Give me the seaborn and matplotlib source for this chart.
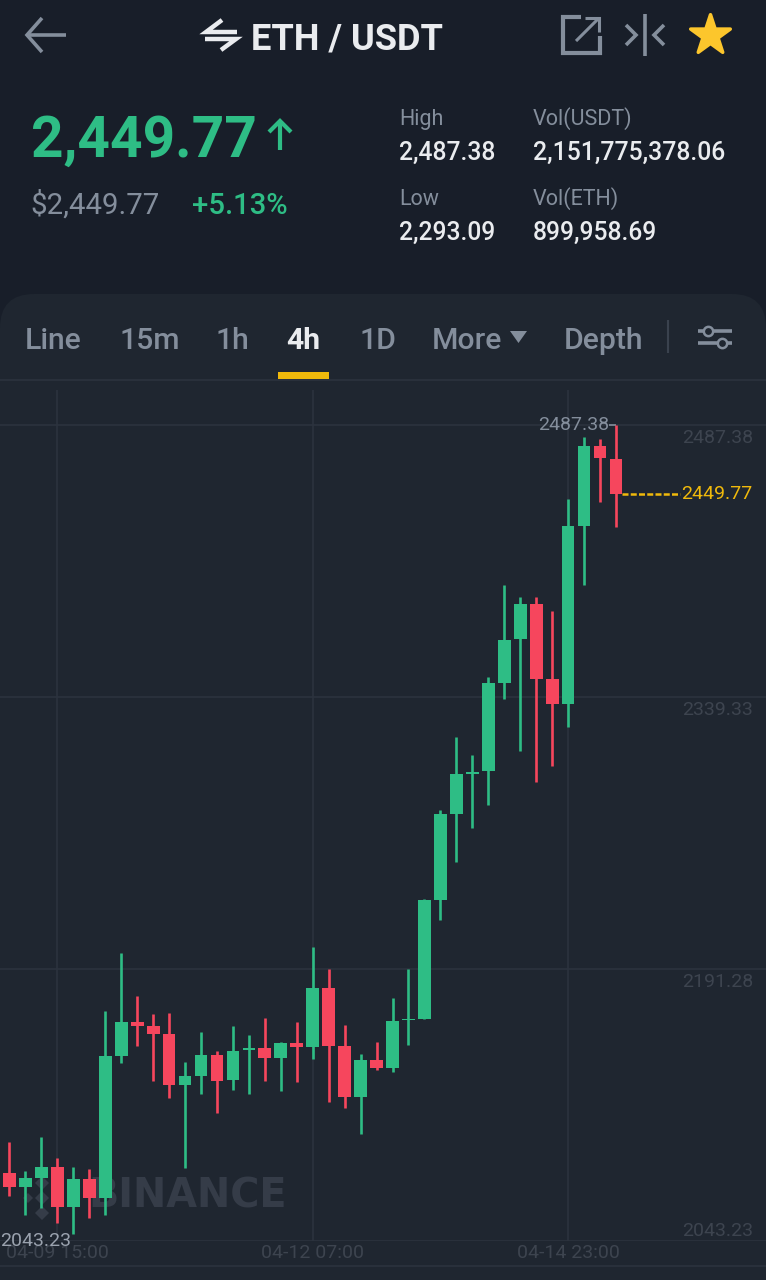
import numpy as np
import pandas as pd
import matplotlib
matplotlib.use("Agg")
import matplotlib.pyplot as plt
import matplotlib.transforms as mtransforms
from matplotlib.patches import FancyBboxPatch, Polygon, Rectangle
import seaborn as sns

# ---------------------------------------------------------
# DATA (4h candles)
# ---------------------------------------------------------
opens = [2080.1, 2072.4, 2077.3, 2083.3, 2061.9, 2076.8, 2066.6, 2144.1, 2162.4, 2160.2,
         2156.1, 2128.1, 2133.0, 2144.3, 2130.9, 2147.4, 2148.3, 2142.8, 2151.0, 2148.6,
         2180.7, 2149.4, 2121.4, 2141.9, 2137.6, 2163.3, 2164.1, 2228.9, 2275.7, 2297.6,
         2299.2, 2347.1, 2370.9, 2390.0, 2349.3, 2335.5, 2432.6, 2476.0, 2468.7]
closes = [2072.4, 2077.3, 2083.3, 2061.9, 2076.8, 2066.6, 2144.1, 2162.6, 2160.2, 2155.7,
          2128.1, 2133.0, 2144.3, 2130.5, 2146.8, 2148.1, 2142.6, 2151.0, 2148.6, 2180.7,
          2149.4, 2121.6, 2141.9, 2137.4, 2163.0, 2164.1, 2228.9, 2275.7, 2297.4, 2298.7,
          2347.0, 2370.4, 2390.0, 2349.1, 2335.5, 2432.6, 2476.0, 2469.4, 2449.77]
highs = [2097.3, 2081.3, 2099.7, 2088.6, 2083.7, 2082.2, 2168.6, 2199.8, 2176.6, 2166.8,
         2167.1, 2140.5, 2156.8, 2146.6, 2160.2, 2155.2, 2164.6, 2151.5, 2162.2, 2203.1,
         2191.1, 2161.0, 2145.0, 2151.5, 2175.3, 2191.5, 2229.5, 2277.8, 2317.6, 2307.8,
         2350.2, 2400.3, 2393.8, 2393.8, 2386.2, 2447.3, 2481.0, 2479.9, 2487.38]
lows = [2067.9, 2057.4, 2061.0, 2053.2, 2047.0, 2055.6, 2057.4, 2139.9, 2149.5, 2130.3,
        2121.2, 2083.1, 2123.1, 2112.9, 2125.4, 2123.1, 2130.3, 2124.7, 2129.6, 2142.5,
        2118.9, 2115.4, 2101.6, 2136.3, 2135.4, 2149.7, 2164.1, 2218.0, 2249.5, 2268.0,
        2280.6, 2338.3, 2310.1, 2293.09, 2301.8, 2323.2, 2400.3, 2445.5, 2431.9]

price_ticks = [2487.38, 2339.33, 2191.28, 2043.23]
time_positions = [3, 19, 35]
time_labels = ["04-09 15:00", "04-12 07:00", "04-14 23:00"]
tabs = ["Line", "15m", "1h", "4h", "1D", "More", "Depth"]
last_price = 2449.77
day_high = 2487.38
chart_low_label = 2043.23

GREEN = "#2ebd85"
RED = "#f6465d"
GOLD = "#f0b90b"
GREY = "#848e9c"
HEADER = "#181e29"
PANEL = "#1f2630"
GRID = "#2c333e"
MARK = "#353c48"

sns.set_theme(style="dark", rc={"axes.facecolor": "none", "figure.facecolor": HEADER})
plt.rcParams["font.family"] = ["Roboto", "DejaVu Sans"]

fig = plt.figure(figsize=(7.66, 12.8), dpi=100)

# ---------------------------------------------------------
# APP CHROME, drawn in screen pixels
# ---------------------------------------------------------
ui = fig.add_axes([0, 0, 1, 1], zorder=0)
ui.set_xlim(0, 766)
ui.set_ylim(1280, 0)
ui.axis("off")

ui.add_patch(FancyBboxPatch((0, 294), 766, 1040, boxstyle="round,pad=0,rounding_size=34",
                            fc=PANEL, ec="none"))
ui.plot([0, 766], [380, 380], color=GRID, lw=1.2)
ui.plot([0, 766], [1266, 1266], color=GRID, lw=1.2)


def label(x, y, s, size, color, weight="normal", ha="left", family=None):
    ui.text(x, y, s, fontsize=size, color=color, fontweight=weight, ha=ha, va="baseline",
            family=family)


def stroke(xs, ys, color, lw=2.6):
    ui.plot(xs, ys, color=color, lw=lw, solid_capstyle="butt", solid_joinstyle="miter")


def diamond(cx, cy, r, color):
    ui.add_patch(Polygon([[cx, cy - r], [cx + r, cy], [cx, cy + r], [cx - r, cy]], fc=color, ec="none"))


# top bar
stroke([66, 27], [35, 35], GREY)
stroke([42, 27, 42], [18, 35, 52], GREY)
stroke([222, 206, 237], [20, 32, 32], "#eaecef", 3.2)
stroke([205, 236, 221], [39, 39, 50], "#eaecef", 3.2)
label(251, 50, "ETH / USDT", 26.1, "#eaecef", "bold")
stroke([581, 563, 563, 600, 600], [17, 17, 53, 53, 36], GREY, 3)
stroke([576, 599], [41, 18], GREY, 2.2)
stroke([585, 599, 599], [18, 18, 32], GREY, 2.2)
stroke([645, 645], [14, 56], GREY)
stroke([626, 636, 626], [25, 35, 45], GREY)
stroke([664, 654, 664], [25, 35, 45], GREY)
ui.scatter([710], [35], marker="*", s=900, color="#fcc62c", edgecolors="#fcc62c", linewidths=2.5, clip_on=False)

# price block
label(31, 157, "2,449.77", 40.9, GREEN, "bold")
stroke([280, 280], [150, 122], GREEN, 3)
stroke([269, 280, 291], [132, 121, 132], GREEN, 3)
label(30, 214, "$2,449.77", 21.2, GREY)
label(192, 214, "+5.13%", 21.1, GREEN, "medium")
label(399, 125, "High", 15.5, GREY)
label(399, 160, "2,487.38", 17.7, "#eaecef", "medium")
label(533, 125, "Vol(USDT)", 15.5, GREY)
label(533, 160, "2,151,775,378.06", 17.85, "#eaecef", "medium")
label(399, 205, "Low", 15.5, GREY)
label(399, 240, "2,293.09", 17.7, "#eaecef", "medium")
label(533, 205, "Vol(ETH)", 15.5, GREY)
label(533, 240, "899,958.69", 17.7, "#eaecef", "medium")

# interval tabs
tab_x = [25, 120, 216, 286, 359, 432, 564]
for x, name in zip(tab_x, tabs):
    label(x, 349, name, 21.7, "#eaecef" if name == "4h" else GREY, "bold" if name == "4h" else "medium")
ui.add_patch(Polygon([[510, 331], [527, 331], [518.5, 343]], fc=GREY, ec="none"))
ui.add_patch(Rectangle((278, 372), 51, 7, fc=GOLD, ec="none"))
stroke([668, 668], [320, 353], "#3a424e", 1.5)
stroke([698, 732], [331, 331], GREY)
stroke([698, 732], [343, 343], GREY)
ui.scatter([708, 722], [331, 343], s=45, facecolor=PANEL, edgecolor=GREY, linewidths=1.8, zorder=3)

# watermark sits under the candles
label(88, 1208, "BINANCE", 28.6, MARK, "bold", family="DejaVu Sans")
diamond(42, 1198, 7, MARK)
diamond(28, 1198, 5, MARK)
diamond(56, 1198, 5, MARK)
diamond(42, 1183, 7, MARK)
diamond(42, 1213, 7, MARK)

# ---------------------------------------------------------
# CANDLES
# ---------------------------------------------------------
df = pd.DataFrame({"open": opens, "close": closes, "high": highs, "low": lows})
df["k"] = np.arange(len(df))
df["up"] = df["close"] >= df["open"]
df["bottom"] = df[["open", "close"]].min(axis=1)
df["body"] = (df["close"] - df["open"]).abs()

# axes run from y=380 to y=1241 px and across the whole width
ax = fig.add_axes([0, 1 - 1241 / 1280, 1, (1241 - 380) / 1280], zorder=1)

for is_up, color in [(True, GREEN), (False, RED)]:
    part = df[df["up"] == is_up]
    ax.vlines(part["k"], part["low"], part["high"], color=color, lw=1.9, zorder=3)
    sns.barplot(data=part, x="k", y="body", bottom=part["bottom"].values, native_scale=True,
                color=color, saturation=1, width=0.8, errorbar=None, ax=ax, zorder=4, linewidth=0)

ax.set_xlim(-0.595, 47.4)
ax.set_ylim(2043.23, 2511.9)
ax.set_xlabel("")
ax.set_ylabel("")
sns.despine(ax=ax, left=True, right=True, top=True, bottom=True)

ax.vlines(time_positions, 2043.23, 2506.4, color=GRID, lw=1.2, zorder=1)
ax.hlines(price_ticks, -0.595, 47.4, color=GRID, lw=1.2, zorder=1)

ax.set_xticks(time_positions)
ax.set_xticklabels(time_labels)
ax.tick_params(axis="x", length=0, pad=2, labelsize=14, labelcolor="#3d444f")

ax.yaxis.tick_right()
ax.set_yticks(price_ticks)
ax.set_yticklabels([f"{p:.2f}" for p in price_ticks])
ax.tick_params(axis="y", length=0, pad=-60.4, labelsize=14, labelcolor="#3d444f")
for p, lab in zip(price_ticks, ax.get_yticklabels()):
    # labels hang under their line, the lowest one sits on top of it
    shift = 12 if p == min(price_ticks) else -10.5
    lab.set_transform(lab.get_transform() + mtransforms.ScaledTranslation(0, shift / 100, fig.dpi_scale_trans))

# last price, high and low markers
last_k = df["k"].iloc[-1]
ax.hlines(last_price, last_k + 0.4, 42.0, color=GOLD, lw=1.8, linestyles=(0, (2.4, 0.9)), zorder=2)
ax.text(42.1, last_price, f"{last_price:.2f}", color=GOLD, fontsize=14, va="center", ha="left")
ax.hlines(day_high, last_k - 0.45, last_k, color=GREY, lw=1.2, zorder=2)
ax.text(last_k - 0.45, day_high, f"{day_high:.2f}", color=GREY, fontsize=14, va="center", ha="right")
ax.text(-0.56, chart_low_label, f"{chart_low_label:.2f}", color="#9aa2ae", fontsize=14,
        va="center", ha="left", zorder=5, clip_on=False)

fig.savefig("out.png", dpi=100, facecolor=HEADER)
